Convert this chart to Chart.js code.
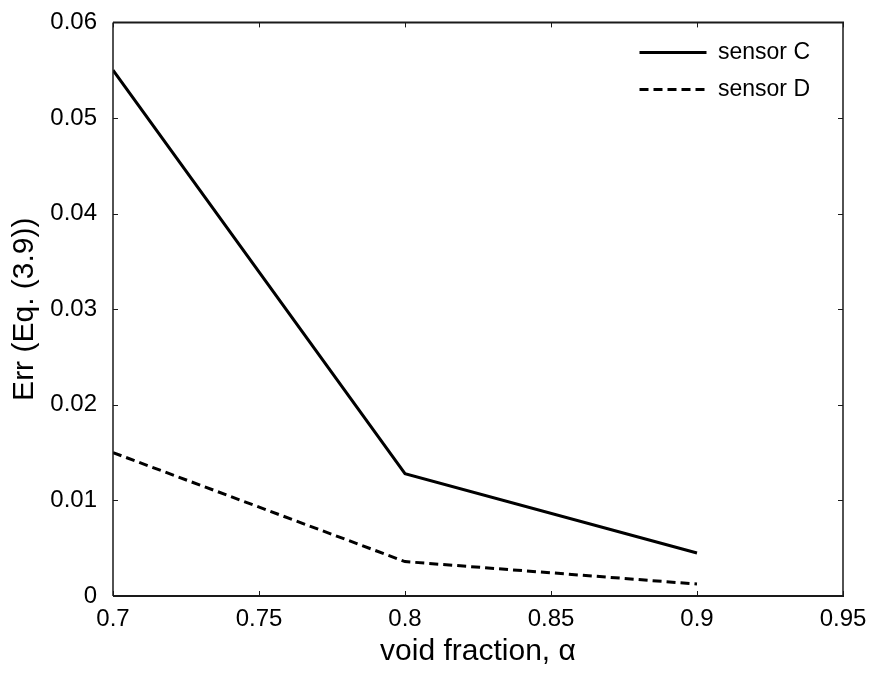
<!DOCTYPE html>
<html><head><meta charset="utf-8">
<script src="https://cdn.jsdelivr.net/npm/chart.js@4/dist/chart.umd.min.js"></script>
<style>html,body{margin:0;padding:0;background:#fff}#wrap{width:874px;height:673px}</style>
</head><body><div id="wrap"><canvas id="c" width="874" height="673"></canvas></div>
<script>
const voidFraction = [0.7, 0.8, 0.9];
const sensorC = [0.055, 0.0128, 0.0045];
const sensorD = [0.015, 0.0036, 0.00125];
const xTicks = [0.7, 0.75, 0.8, 0.85, 0.9, 0.95];
const yTicks = [0, 0.01, 0.02, 0.03, 0.04, 0.05, 0.06];
const xTickLabels = ['0.7', '0.75', '0.8', '0.85', '0.9', '0.95'];
const yTickLabels = ['0', '0.01', '0.02', '0.03', '0.04', '0.05', '0.06'];

const FONT = 'Liberation Sans, Arial, sans-serif';

const frameAndTicks = {
  id: 'frameAndTicks',
  afterLayout(chart) {
    const lg = chart.legend;
    if (!lg) return;
    const w = lg.width;
    lg.left = 625.5;
    lg.right = lg.left + w + 40;
    lg.top = 27;
    lg.bottom = chart.chartArea.bottom;
  },
  afterDraw(chart) {
    const ctx = chart.ctx, a = chart.chartArea;
    const xs = chart.scales.x, ys = chart.scales.y;
    ctx.save();
    ctx.strokeStyle = '#1a1a1a';
    ctx.lineWidth = 2;
    ctx.beginPath();
    ctx.moveTo(a.left, a.bottom); ctx.lineTo(a.right + 1, a.bottom);
    ctx.moveTo(a.left, a.top); ctx.lineTo(a.right + 1, a.top);
    ctx.stroke();
    ctx.lineWidth = 1.5;
    ctx.beginPath();
    ctx.moveTo(a.left, a.top); ctx.lineTo(a.left, a.bottom);
    ctx.moveTo(a.right, a.top); ctx.lineTo(a.right, a.bottom);
    ctx.stroke();
    const L = 5;
    ctx.lineWidth = 1;
    ctx.beginPath();
    xTicks.forEach(v => {
      const px = Math.round(xs.getPixelForValue(v)) + 0.5;
      ctx.moveTo(px, a.bottom); ctx.lineTo(px, a.bottom - L);
      ctx.moveTo(px, a.top); ctx.lineTo(px, a.top + L);
    });
    yTicks.forEach(v => {
      const py = Math.round(ys.getPixelForValue(v)) + 0.5;
      ctx.moveTo(a.left, py); ctx.lineTo(a.left + L, py);
      ctx.moveTo(a.right, py); ctx.lineTo(a.right - L, py);
    });
    ctx.stroke();
    ctx.restore();
  }
};

new Chart(document.getElementById('c'), {
  type: 'line',
  data: {
    datasets: [
      { label: 'sensor C', data: voidFraction.map((x, i) => ({x, y: sensorC[i]})),
        borderColor: '#000', backgroundColor: '#000', borderWidth: 3, pointRadius: 0, tension: 0 },
      { label: 'sensor D', data: voidFraction.map((x, i) => ({x, y: sensorD[i]})),
        borderColor: '#000', backgroundColor: '#000', borderWidth: 3, borderDash: [9, 5], pointRadius: 0, tension: 0 }
    ]
  },
  options: {
    responsive: false,
    animation: false,
    layout: { padding: { top: 20, right: 31, left: 0, bottom: 0 } },
    plugins: {
      tooltip: { enabled: false },
      legend: {
        position: 'chartArea',
        align: 'start',
        labels: {
          usePointStyle: true,
          pointStyle: 'line',
          pointStyleWidth: 67,
          boxHeight: 23,
          color: '#000',
          font: { family: FONT, size: 23 },
          padding: 14,
          generateLabels(chart) {
            return chart.data.datasets.map((d, i) => ({
              text: d.label, fillStyle: '#000', strokeStyle: '#000', lineWidth: 3,
              lineDash: d.borderDash || [], pointStyle: 'line', datasetIndex: i, fontColor: '#000'
            }));
          }
        }
      }
    },
    scales: {
      x: {
        type: 'linear', min: 0.7, max: 0.95,
        afterBuildTicks(s) { s.ticks = xTicks.map(v => ({ value: v })); },
        afterFit(s) { s.height = 77; },
        ticks: { color: '#000', font: { family: FONT, size: 24 }, padding: 1, maxRotation: 0,
          callback: (v) => xTickLabels[xTicks.findIndex(t => Math.abs(t - v) < 1e-9)] },
        grid: { display: false },
        border: { display: false },
        title: { display: true, text: 'void fraction, α', color: '#000', font: { family: FONT, size: 30 }, padding: { top: 0, bottom: 3 } }
      },
      y: {
        type: 'linear', min: 0, max: 0.06,
        afterBuildTicks(s) { s.ticks = yTicks.map(v => ({ value: v })); },
        afterFit(s) { s.width = 113; },
        ticks: { color: '#000', font: { family: FONT, size: 24 }, padding: 8,
          callback: (v) => yTickLabels[yTicks.findIndex(t => Math.abs(t - v) < 1e-9)] },
        grid: { display: false },
        border: { display: false },
        title: { display: true, text: 'Err (Eq. (3.9))', color: '#000', font: { family: FONT, size: 30 }, padding: { top: 7, bottom: 0 } }
      }
    }
  },
  plugins: [frameAndTicks]
});
</script></body></html>
